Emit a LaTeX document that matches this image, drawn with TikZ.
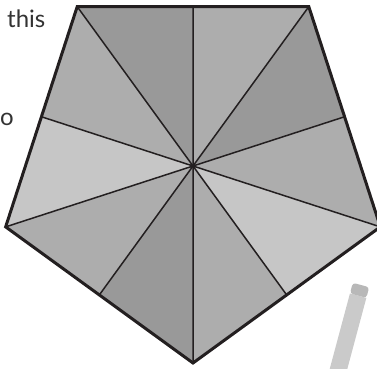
\documentclass[tikz,border=0pt]{standalone}
\usepackage{fontspec}
\setmainfont{Lato}
\usetikzlibrary{calc}
\definecolor{wedgedark}{HTML}{999999}
\definecolor{wedgemid}{HTML}{ADADAD}
\definecolor{wedgelight}{HTML}{C6C6C6}
\definecolor{inkline}{HTML}{231F20}
\definecolor{pencilbody}{HTML}{CACACA}
\definecolor{pencilcap}{HTML}{B8B8B8}

\begin{document}
\begin{tikzpicture}[x=1pt,y=1pt,
    rim/.style={draw=inkline,line width=3pt,line join=miter},
    spoke/.style={draw=inkline,line width=1.5pt},
    caption/.style={font=\fontsize{24}{28}\selectfont,text=black!80,inner sep=0pt,anchor=base west},
]
\useasboundingbox (0,0) rectangle (377,368);
\coordinate (c) at (193,202);
% corners and side midpoints, counter-clockwise from the bottom corner
\foreach \i in {0,...,4}{
  \coordinate (v\i) at ($(c)+({-90+72*\i}:197)$);
  \coordinate (m\i) at ($(c)+({-54+72*\i}:{197*cos(36)})$);
}
% ten wedges round the centre
\foreach \i/\j/\shade in {0/1/wedgelight,1/2/wedgedark,2/3/wedgedark,3/4/wedgelight,4/0/wedgedark}{
  \fill[wedgemid] (c) -- (v\i) -- (m\i) -- cycle;
  \fill[\shade] (c) -- (m\i) -- (v\j) -- cycle;
}
\foreach \i in {0,...,4}
  \draw[spoke] (c) -- (v\i) (c) -- (m\i);
\draw[rim] (v0) -- (v1) -- (v2) -- (v3) -- (v4) -- cycle;
% pencil poking in at the bottom right
\begin{scope}[shift={(361,83)},rotate=-15]
  \fill[pencilbody] (-8.5,-11) rectangle (8.5,-110);
  \fill[pencilcap,rounded corners=3pt] (-8.5,-11) -- (-8.5,0) -- (8.5,0) -- (8.5,-11) -- cycle;
\end{scope}
% words on the left
\node[caption] (this) at (7,341) {this};
\node[caption] (tail) at (0,243) {o};
\end{tikzpicture}
\end{document}
